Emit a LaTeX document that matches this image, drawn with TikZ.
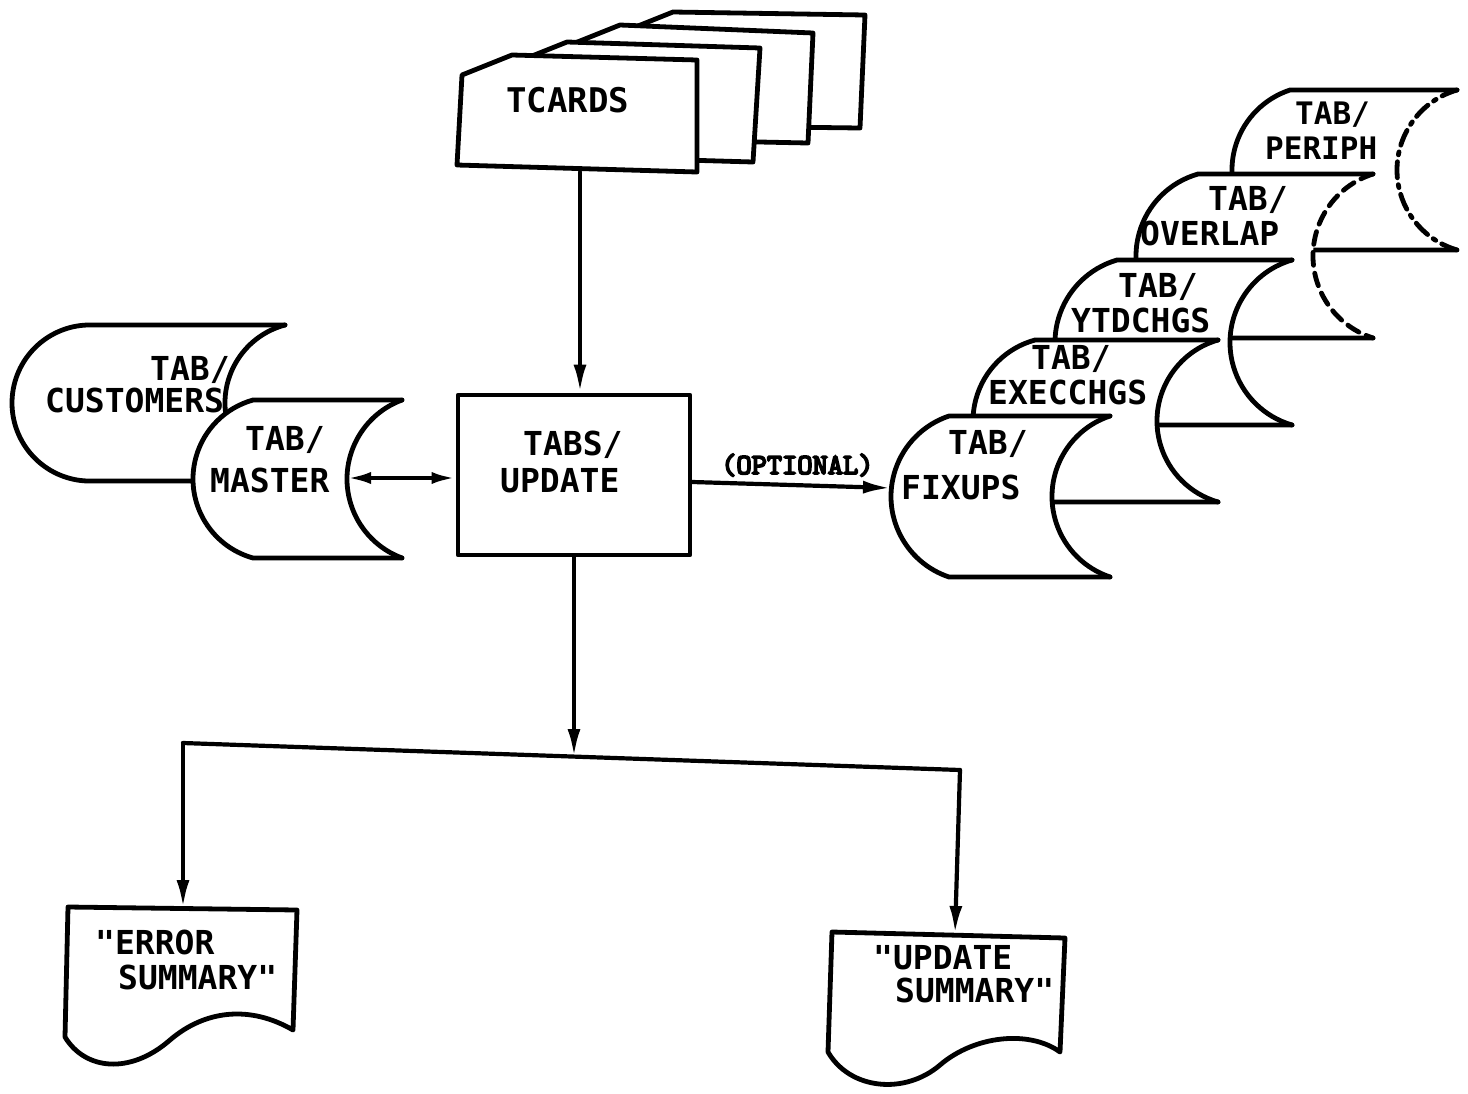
\documentclass[tikz,border=0pt]{standalone}
\usepackage{fontspec}
\setmonofont{DejaVu Sans Mono}
\newfontfamily\optfont{lmmono10-regular.otf}[FakeBold=6]
\usetikzlibrary{arrows.meta}
\tikzset{
  shp/.style={line width=4.8pt, line join=round, line cap=round},
  conn/.style={line width=4.2pt, line cap=round},
  arr/.style={conn, -{Latex[length=28pt,width=13pt]}},
  darr/.style={conn, {Latex[length=24pt,width=12pt]}-{Latex[length=24pt,width=12pt]}},
  lbl/.style={font=\ttfamily\bfseries\fontsize{33}{36}\selectfont, inner sep=0pt, anchor=base west},
  bigl/.style={font=\ttfamily\bfseries\fontsize{34}{38}\selectfont, inner sep=0pt, anchor=base west},
  optlbl/.style={font=\optfont\fontsize{29}{32}\selectfont, inner sep=0pt, anchor=base west},
  periphdash/.style={dash pattern=on 16pt off 7pt on 3pt off 7pt},
  overdash/.style={dash pattern=on 13pt off 8pt},
}
% L T R B dl dr rightstyle  (pixel coordinates, y downwards)
\newcommand\storshape[7]{%
 \pgfmathsetmacro\sH{(#4-#2)/2}%
 \pgfmathsetmacro\rR{(\sH*\sH+#6*#6)/(2*#6)}%
 \pgfmathsetmacro\aR{180-atan(\sH/(\rR-#6))}%
 \pgfmathsetmacro\rL{(\sH*\sH+#5*#5)/(2*#5)}%
 \pgfmathsetmacro\aL{180-atan(\sH/(\rL-#5))}%
 \fill[white] ({#1+#5},#2) -- (#3,#2)
   arc[start angle=\aR, end angle={360-\aR}, radius=\rR pt]
   -- ({#1+#5},#4)
   arc[start angle={360-\aL}, end angle=\aL, radius=\rL pt] -- cycle;
 \draw[shp] (#3,#4) -- ({#1+#5},#4)
   arc[start angle={360-\aL}, end angle=\aL, radius=\rL pt] -- (#3,#2);
 \draw[shp,#7] (#3,#2) arc[start angle=\aR, end angle={360-\aR}, radius=\rR pt];
}
\begin{document}
\begin{tikzpicture}[x=1pt,y=-1pt]
\useasboundingbox[fill=white] (0,0) rectangle (1468,1093);

% ---- TCARDS deck (back to front)
\draw[shp, fill=white] (623,32) -- (673,12) -- (865,15) -- (860,128) -- (618,125) -- cycle;
\draw[shp, fill=white] (570,45) -- (620,25) -- (813,33) -- (808,143) -- (565,138) -- cycle;
\draw[shp, fill=white] (517,62) -- (567,42) -- (760,48) -- (753,162) -- (512,155) -- cycle;
\draw[shp, fill=white] (462,75) -- (512,55) -- (697,60) -- (697,172) -- (457,165) -- cycle;
\node[bigl] (tcards) at (506,112) {TCARDS};
\coordinate (cardB) at (580,172);

% ---- left storages
\storshape{12}{325}{285}{481}{75}{60}{}
\node[lbl] (custA) at (150,380) {TAB/};
\node[lbl] (custB) at (45,412) {CUSTOMERS};
\storshape{193}{400}{402}{558}{60}{55}{}
\node[lbl] (mastA) at (245,450) {TAB/};
\node[lbl] (mastB) at (210,492) {MASTER};
\coordinate (mR) at (347,478);

% ---- process box
\node[shp, draw, fill=white, minimum width=232pt, minimum height=160pt, inner sep=0pt] (upd) at (574,475) {};
\node[lbl] (updA) at (523,455) {TABS/};
\node[lbl] (updB) at (500,492) {UPDATE};

% ---- right storage stack (back to front)
\storshape{1232}{90}{1457}{250}{58}{60}{periphdash}
\node[lbl, font=\ttfamily\bfseries\fontsize{31}{34}\selectfont] (perA) at (1295,124) {TAB/};
\node[lbl, font=\ttfamily\bfseries\fontsize{31}{34}\selectfont] (perB) at (1265,159) {PERIPH};
\storshape{1136}{174}{1373}{338}{62}{60}{overdash}
\node[lbl] (ovA) at (1208,210) {TAB/};
\node[lbl] (ovB) at (1140,245) {OVERLAP};
\storshape{1055}{260}{1292}{425}{62}{62}{}
\node[lbl] (ytA) at (1118,297) {TAB/};
\node[lbl] (ytB) at (1071,332) {YTDCHGS};
\storshape{973}{340}{1218}{502}{62}{61}{}
\node[lbl] (exA) at (1031,369) {TAB/};
\node[lbl] (exB) at (988,404) {EXECCHGS};
\storshape{891}{416}{1110}{577}{58}{58}{}
\node[lbl] (fxA) at (948,454) {TAB/};
\node[lbl] (fxB) at (901,499) {FIXUPS};
\coordinate (fL) at (891,488);

% ---- documents
\draw[shp, fill=white] (68,907) -- (297,910) -- (293,1030)
  .. controls (250,1005) and (205,1010) .. (170,1040)
  .. controls (130,1075) and (85,1070) .. (65,1037) -- cycle;
\node[lbl] (errA) at (95,954) {"ERROR};
\node[lbl] (errB) at (118,989) {SUMMARY"};
\draw[shp, fill=white] (832,932) -- (1065,938) -- (1060,1052)
  .. controls (1030,1030) and (975,1035) .. (940,1065)
  .. controls (905,1095) and (850,1090) .. (828,1052) -- cycle;
\node[lbl] (usA) at (873,969) {"UPDATE};
\node[lbl] (usB) at (895,1002) {SUMMARY"};

% ---- connectors
\draw[arr] (cardB) -- (cardB |- upd.north);
\draw[darr] (mR) -- (mR -| upd.west);
\draw[arr] ([yshift=-7pt]upd.east) -- (fL);
\node[optlbl] (opt) at (721,474) {(OPTIONAL)};
\coordinate (bl) at (183,743);
\coordinate (br) at (960,770);
\coordinate (junc) at (574,757);
\coordinate (errT) at (183,908);
\coordinate (updT) at (955,934);
\draw[arr] (upd.south) -- (junc);
\draw[conn] (bl) -- (br);
\draw[arr] (bl) -- (errT);
\draw[arr] (br) -- (updT);
\end{tikzpicture}
\end{document}
